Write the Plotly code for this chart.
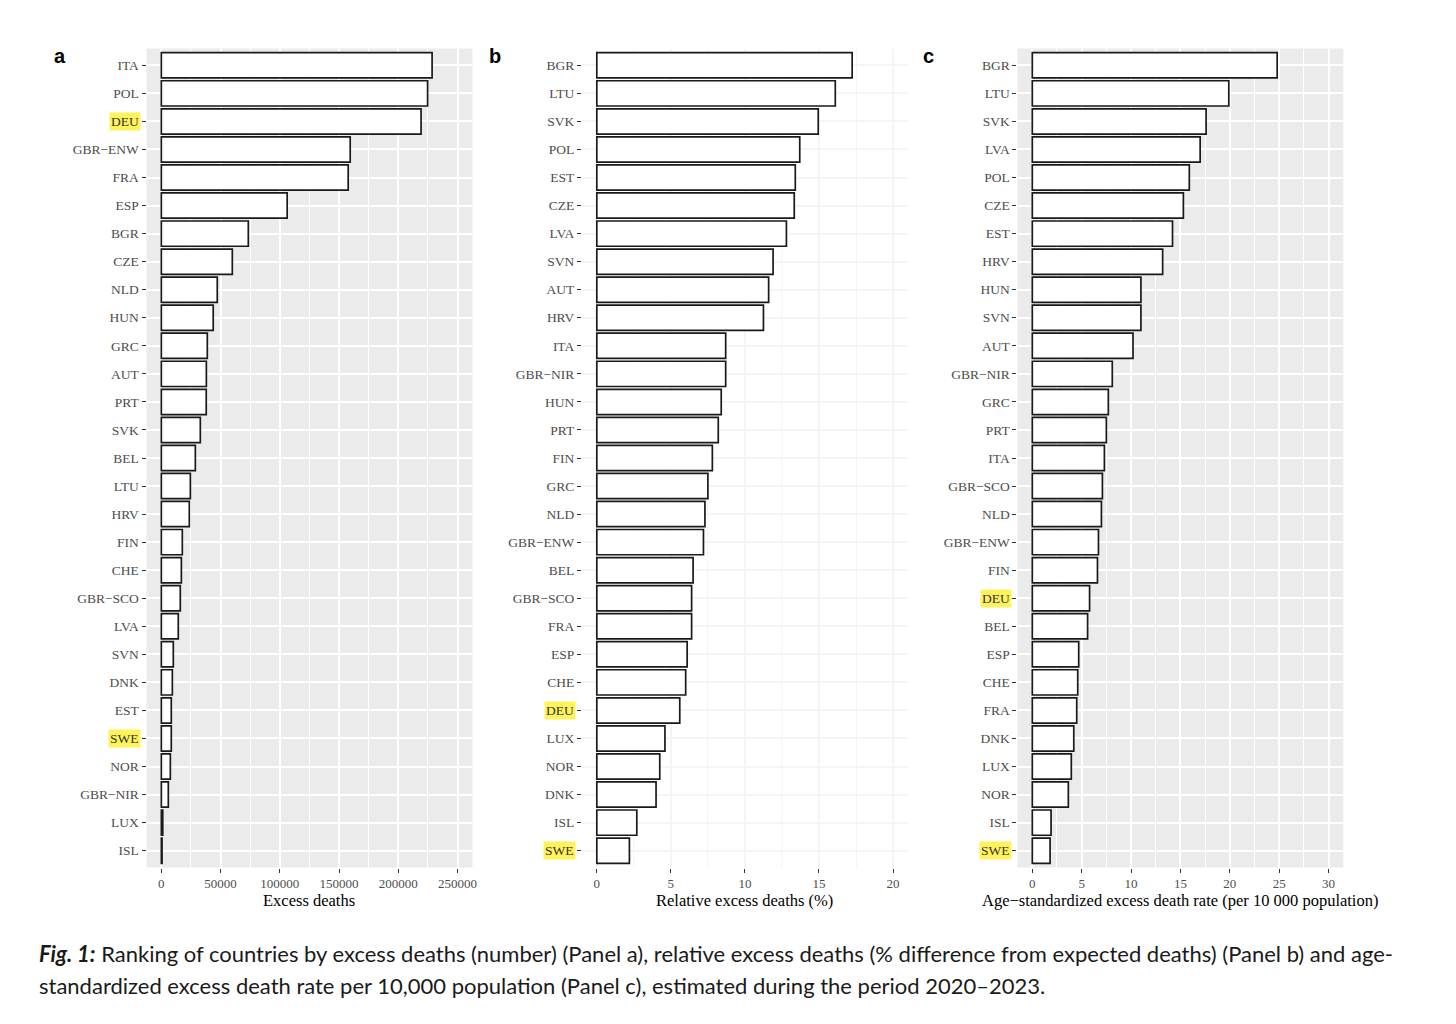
import plotly.graph_objects as go

M = "\u2212"
countries_a = ["ITA", "POL", "DEU", "GBR" + M + "ENW", "FRA", "ESP", "BGR", "CZE", "NLD", "HUN",
               "GRC", "AUT", "PRT", "SVK", "BEL", "LTU", "HRV", "FIN", "CHE", "GBR" + M + "SCO",
               "LVA", "SVN", "DNK", "EST", "SWE", "NOR", "GBR" + M + "NIR", "LUX", "ISL"]
excess_deaths = [228500, 224700, 219200, 159400, 157700, 106200, 73400, 59900, 47200, 43800,
                 38800, 38000, 37900, 32900, 28700, 24500, 23600, 17700, 16900, 16000,
                 14300, 10100, 9300, 8400, 8400, 7600, 5900, 1200, 600]

countries_b = ["BGR", "LTU", "SVK", "POL", "EST", "CZE", "LVA", "SVN", "AUT", "HRV",
               "ITA", "GBR" + M + "NIR", "HUN", "PRT", "FIN", "GRC", "NLD", "GBR" + M + "ENW", "BEL", "GBR" + M + "SCO",
               "FRA", "ESP", "CHE", "DEU", "LUX", "NOR", "DNK", "ISL", "SWE"]
relative_excess = [17.24, 16.1, 14.95, 13.7, 13.4, 13.33, 12.8, 11.9, 11.6, 11.25,
                   8.7, 8.7, 8.4, 8.2, 7.8, 7.5, 7.3, 7.2, 6.5, 6.4,
                   6.4, 6.1, 6.0, 5.6, 4.6, 4.25, 4.0, 2.7, 2.2]

countries_c = ["BGR", "LTU", "SVK", "LVA", "POL", "CZE", "EST", "HRV", "HUN", "SVN",
               "AUT", "GBR" + M + "NIR", "GRC", "PRT", "ITA", "GBR" + M + "SCO", "NLD", "GBR" + M + "ENW", "FIN", "DEU",
               "BEL", "ESP", "CHE", "FRA", "DNK", "LUX", "NOR", "ISL", "SWE"]
asr_rate = [24.8, 19.9, 17.6, 17.0, 15.9, 15.3, 14.2, 13.2, 11.0, 11.0,
            10.2, 8.1, 7.7, 7.5, 7.3, 7.1, 7.0, 6.7, 6.6, 5.8,
            5.6, 4.7, 4.6, 4.5, 4.2, 3.95, 3.65, 1.9, 1.8]

highlight = ["DEU", "SWE"]

ticks_a = [0, 50000, 100000, 150000, 200000, 250000]
ticks_b = [0, 5, 10, 15, 20]
ticks_c = [0, 5, 10, 15, 20, 25, 30]

titles = ["Excess deaths", "Relative excess deaths (%)",
          "Age" + M + "standardized excess death rate (per 10 000 population)"]
panel_letters = ["a", "b", "c"]

# page offset (body margin) compensation
OFF = 8
W, H = 1440, 1008


def fx(px):
    return (px - OFF) / W


def fy(py):
    return 1 - (py - OFF) / H


panels_px = [(147, 474), (584, 911), (1021, 1348)]
top_px, bot_px = 48.5, 867.5

panels = [
    (countries_a, excess_deaths, ticks_a, [-12500, 262500], 25000, "#EBEBEB", "white"),
    (countries_b, relative_excess, ticks_b, [-1, 21], 2.5, "white", "#F5F5F5"),
    (countries_c, asr_rate, ticks_c, [-1.5, 31.5], 2.5, "#EBEBEB", "white"),
]

fig = go.Figure()
serif = "Liberation Serif"
annotations = []
shapes = []

for i, (cats, vals, tks, xr, minor_d, bg, gc) in enumerate(panels):
    xa = "x" if i == 0 else f"x{i+1}"
    ya = "y" if i == 0 else f"y{i+1}"
    fig.add_trace(go.Bar(
        x=vals, y=cats, orientation="h", xaxis=xa, yaxis=ya, width=0.9,
        marker=dict(color="white", line=dict(color="#1A1A1A", width=1.7)),
        showlegend=False, hoverinfo="x+y"))
    l, r = panels_px[i]
    dom_x = [fx(l), fx(r)]
    dom_y = [fy(bot_px), fy(top_px)]
    ticktext = ["" if c in highlight else c for c in cats]
    xkey = "xaxis" if i == 0 else f"xaxis{i+1}"
    ykey = "yaxis" if i == 0 else f"yaxis{i+1}"
    fig.update_layout(**{
        xkey: dict(domain=dom_x, anchor=ya, range=xr, tickvals=tks,
                   ticktext=[str(t) for t in tks], showgrid=True, gridcolor=gc, gridwidth=1.8,
                   minor=dict(dtick=minor_d, tick0=0, showgrid=True, gridcolor=gc, gridwidth=1.0, ticks=""),
                   zeroline=False, ticks="outside", ticklen=4, tickwidth=1.1, tickcolor="#333333",
                   tickfont=dict(family=serif, size=13, color="#4D4D4D"), showline=False,
                   fixedrange=True),
        ykey: dict(domain=dom_y, anchor=xa, type="category", categoryorder="array",
                   categoryarray=cats[::-1], range=[-0.6, 28.6], tickvals=cats, ticktext=ticktext,
                   showgrid=True, gridcolor=gc, gridwidth=1.8, zeroline=False,
                   ticks="outside", ticklen=4, tickwidth=1.1, tickcolor="#333333",
                   tickfont=dict(family=serif, size=13.5, color="#4D4D4D"), showline=False,
                   fixedrange=True),
    })
    shapes.append(dict(type="rect", xref="paper", yref="paper", x0=dom_x[0], x1=dom_x[1],
                       y0=dom_y[0], y1=dom_y[1], fillcolor=bg, line=dict(width=0), layer="below"))
    for c in highlight:
        if c in cats:
            annotations.append(dict(
                text=c, xref="paper", yref=ya, x=fx(l - 6), y=c, xanchor="right",
                yanchor="middle", showarrow=False, bgcolor="#FFF35C", borderpad=1,
                font=dict(family=serif, size=13.5, color="#333333")))
    annotations.append(dict(
        text=titles[i], xref="paper", yref="paper", x=fx((l + r) / 2), y=fy(900),
        xanchor="center", yanchor="middle", showarrow=False,
        font=dict(family=serif, size=16.5, color="black")))
    annotations.append(dict(
        text="<b>" + panel_letters[i] + "</b>", xref="paper", yref="paper",
        x=fx([60, 497, 932][i]), y=fy(56), xanchor="center", yanchor="middle",
        showarrow=False, font=dict(family="Liberation Sans", size=20, color="black")))

cap_font = dict(family="Lato", size=22, color="#1A1A1A")
annotations.append(dict(
    text="<b><i>Fig. 1:</i></b> Ranking of countries by excess deaths (number) (Panel a), relative excess deaths (% difference from expected deaths) (Panel b) and age-",
    xref="paper", yref="paper", x=fx(37), y=fy(953), xanchor="left", yanchor="middle",
    showarrow=False, font=cap_font))
annotations.append(dict(
    text="standardized excess death rate per 10,000 population (Panel c), estimated during the period 2020\u20132023.",
    xref="paper", yref="paper", x=fx(37), y=fy(985), xanchor="left", yanchor="middle",
    showarrow=False, font=cap_font))

fig.update_layout(width=W, height=H, margin=dict(l=0, r=0, t=0, b=0),
                  paper_bgcolor="white", plot_bgcolor="rgba(0,0,0,0)",
                  shapes=shapes, annotations=annotations, bargap=0.1)

fig.write_html("out.html")
